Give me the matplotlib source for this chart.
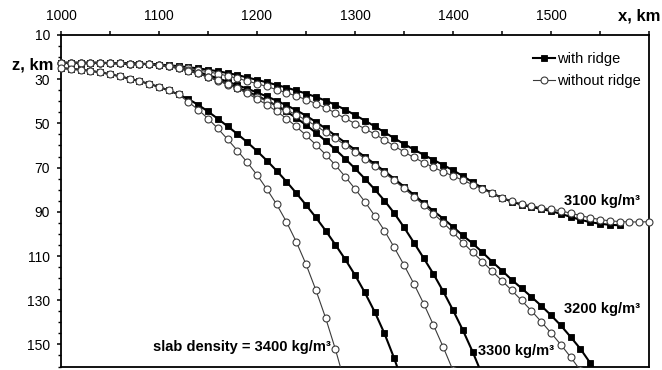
import matplotlib
matplotlib.use("Agg")
import matplotlib.pyplot as plt
from matplotlib.ticker import MultipleLocator, FixedLocator
from matplotlib.transforms import Bbox, TransformedBbox

plt.rcParams['font.family'] = ['Liberation Sans', 'DejaVu Sans']

# x positions of the model points (km), every 10 km from the trench
X_GRID = list(range(1000, 1610, 10))

# slab depth z (km) at each x of X_GRID, per slab density, with / without ridge
z_3100_ridge = [22.6, 22.6, 22.6, 22.6, 22.6, 22.7, 22.8, 22.9, 23.0, 23.2,
                23.4, 23.7, 24.1, 24.6, 25.1, 25.7, 26.4, 27.2, 28.1, 29.2,
                30.3, 31.4, 32.6, 33.8, 35.1, 36.5, 38.0, 39.7, 41.6, 43.8,
                46.2, 48.7, 51.3, 54.0, 56.7, 59.3, 61.8, 64.2, 66.5, 68.8,
                71.2, 73.8, 76.6, 79.2, 81.6, 83.7, 85.4, 86.8, 87.8, 88.7,
                89.7, 90.9, 92.3, 93.6, 94.7, 95.4, 95.9, 96.1]
z_3100_noridge = [22.6, 22.6, 22.6, 22.6, 22.6, 22.7, 22.8, 22.9, 23.0, 23.2,
                  23.5, 23.9, 24.4, 25.1, 25.8, 26.6, 27.5, 28.5, 29.6, 30.8,
                  32.0, 33.3, 34.7, 36.1, 37.6, 39.2, 41.0, 43.0, 45.3, 47.7,
                  50.1, 52.4, 54.8, 57.5, 60.2, 62.9, 65.4, 67.7, 69.9, 71.9,
                  73.8, 75.7, 77.7, 79.7, 81.7, 83.6, 85.1, 86.4, 87.3, 88.1,
                  88.8, 89.6, 90.6, 91.7, 92.7, 93.5, 94.1, 94.4, 94.6, 94.6,
                  94.5]
z_3200_ridge = [22.6, 22.6, 22.6, 22.6, 22.6, 22.7, 22.8, 22.9, 23.0, 23.2,
                23.4, 23.9, 24.6, 25.6, 26.8, 28.1, 29.6, 31.1, 32.7, 34.3,
                36.0, 37.8, 39.7, 41.8, 44.0, 46.5, 49.3, 52.3, 55.5, 58.7,
                61.9, 65.1, 68.3, 71.6, 75.0, 78.6, 82.3, 86.0, 89.6, 93.1,
                96.8, 100.7, 104.3, 108.3, 112.6, 116.6, 120.8, 124.6, 128.5, 132.5,
                136.8, 141.4, 146.6, 152.0, 158.4, 165.0]
z_3200_noridge = [22.6, 22.6, 22.6, 22.6, 22.6, 22.7, 22.8, 22.9, 23.0, 23.2,
                  23.5, 24.0, 24.8, 25.9, 27.3, 28.9, 30.6, 32.4, 34.2, 36.0,
                  37.9, 39.8, 41.8, 43.9, 46.1, 48.5, 51.1, 53.9, 56.8, 59.8,
                  62.8, 65.9, 69.1, 72.4, 75.8, 79.4, 83.1, 86.9, 90.8, 94.9,
                  99.3, 103.9, 108.3, 112.5, 116.9, 121.2, 125.6, 130.1, 134.8, 139.7,
                  144.8, 150.1, 155.7, 161.8]
z_3300_ridge = [22.6, 22.6, 22.6, 22.6, 22.6, 22.7, 22.8, 22.9, 23.0, 23.2,
                23.5, 24.1, 25.0, 26.1, 27.4, 28.8, 30.4, 32.1, 33.8, 35.6,
                37.5, 39.6, 42.0, 44.6, 47.5, 50.7, 54.2, 57.9, 61.8, 66.0,
                70.4, 75.0, 79.8, 84.9, 90.6, 97.0, 103.9, 110.9, 118.1, 126.0,
                134.5, 143.5, 153.3, 164.0]
z_3300_noridge = [22.6, 22.6, 22.6, 22.6, 22.6, 22.7, 22.8, 22.9, 23.0, 23.2,
                  23.5, 24.2, 25.1, 26.2, 27.4, 28.8, 30.4, 32.2, 34.2, 36.4,
                  38.9, 41.6, 44.5, 47.8, 51.4, 55.4, 59.6, 64.1, 68.9, 74.1,
                  79.6, 85.4, 91.7, 98.5, 106.1, 114.1, 122.5, 131.5, 141.2, 151.2,
                  161.8]
z_3400_ridge = [25.0, 25.3, 25.7, 26.2, 26.9, 27.7, 28.7, 29.8, 30.9, 32.1,
                33.5, 35.1, 36.9, 39.0, 41.6, 44.6, 47.9, 51.3, 54.8, 58.5,
                62.5, 66.8, 71.4, 76.3, 81.5, 86.9, 92.5, 98.5, 104.9, 111.5,
                118.6, 126.5, 135.2, 145.0, 156.3, 169.0]
z_3400_noridge = [25.0, 25.3, 25.7, 26.2, 26.9, 27.7, 28.7, 29.8, 30.9, 32.1,
                  33.5, 35.1, 36.9, 40.3, 43.8, 47.8, 52.3, 57.2, 62.3, 67.6,
                  73.3, 79.7, 86.6, 94.5, 103.5, 113.7, 125.3, 138.0, 152.2, 168.0]

densities = ["3100", "3200", "3300", "3400"]
ridge_series = [z_3100_ridge, z_3200_ridge, z_3300_ridge, z_3400_ridge]
noridge_series = [z_3100_noridge, z_3200_noridge, z_3300_noridge, z_3400_noridge]

x_ticks = [1000, 1100, 1200, 1300, 1400, 1500, 1600]
x_ticklabels = ["1000", "1100", "1200", "1300", "1400", "1500", ""]
y_ticks = [10, 30, 50, 70, 90, 110, 130, 150]

fig = plt.figure(figsize=(6.62, 3.70), dpi=100)
ax = fig.add_axes([61 / 662, 1 - 366.5 / 370, (649 - 61) / 662, (366.5 - 35) / 370])

# clip marks only at the bottom/top of the plot; let edge markers show fully at the sides
clip = TransformedBbox(Bbox([[-0.03, 0.0], [1.03, 1.0]]), ax.transAxes)

h_r = h_n = None
for zr, zn in zip(ridge_series, noridge_series):
    h_r, = ax.plot(X_GRID[:len(zr)], zr, color='black', lw=1.5, marker='s',
                   ms=4.3, mfc='black', mec='black', mew=0.6, zorder=3)
    h_n, = ax.plot(X_GRID[:len(zn)], zn, color='#3a3a3a', lw=0.8, marker='o',
                   ms=5.0, mfc='white', mec='#3a3a3a', mew=0.8, zorder=4)
    h_r.set_clip_box(clip)
    h_n.set_clip_box(clip)

ax.set_xlim(1000, 1600)
ax.set_ylim(160, 10)

ax.xaxis.tick_top()
ax.xaxis.set_major_locator(FixedLocator(x_ticks))
ax.set_xticklabels(x_ticklabels)
ax.xaxis.set_minor_locator(MultipleLocator(50))
ax.yaxis.set_major_locator(FixedLocator(y_ticks))
ax.yaxis.set_minor_locator(MultipleLocator(5))

ax.tick_params(axis='x', which='major', direction='out', length=3, width=1.1,
               top=True, bottom=False, labelsize=10, pad=6)
ax.tick_params(axis='x', which='minor', direction='out', length=3, width=1.1,
               top=True, bottom=False)
ax.tick_params(axis='y', which='major', direction='out', length=3, width=1.1,
               left=True, right=False, labelsize=10, pad=5)
ax.tick_params(axis='y', which='minor', direction='out', length=2, width=1.0,
               left=True, right=False)
for sp in ax.spines.values():
    sp.set_linewidth(1.3)
    sp.set_color('black')

fig.text(660 / 662, 1 - 16 / 370, "x, km", ha='right', va='center',
         fontsize=12, fontweight='bold')
fig.text(53 / 662, 1 - 65 / 370, "z, km", ha='right', va='center',
         fontsize=12, fontweight='bold')

fs_ann = 10.5
ax.text(1591, 85, "3100 kg/m³", ha='right', va='center', fontsize=fs_ann, fontweight='bold')
ax.text(1591, 133.8, "3200 kg/m³", ha='right', va='center', fontsize=fs_ann, fontweight='bold')
ax.text(1426, 153.2, "3300 kg/m³", ha='left', va='center', fontsize=fs_ann, fontweight='bold')
ax.text(1275, 151, "slab density = 3400 kg/m³", ha='right', va='center',
        fontsize=fs_ann, fontweight='bold')

ax.legend([h_r, h_n], ["with ridge", "without ridge"], loc='upper left',
          bbox_to_anchor=(533 / 662, 1 - 52 / 370), bbox_transform=fig.transFigure,
          frameon=False, fontsize=10.5, handlelength=1.5, handletextpad=0.15,
          labelspacing=0.55, borderpad=0, borderaxespad=0, numpoints=1)

fig.savefig("out.png", dpi=100)
